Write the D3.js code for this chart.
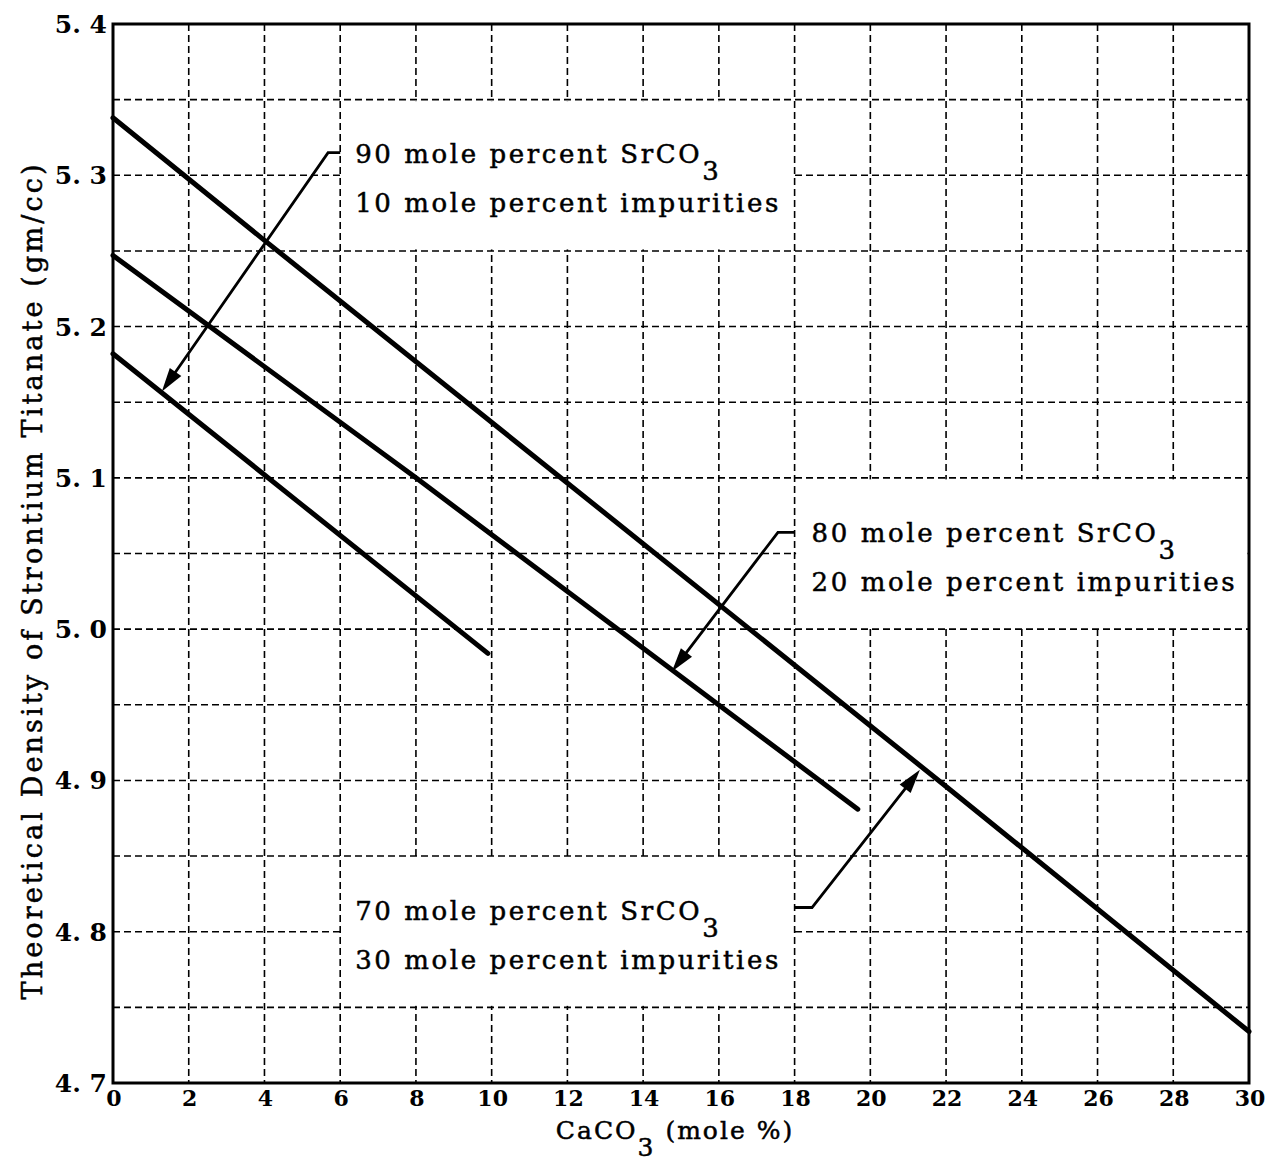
<!DOCTYPE html>
<html>
<head>
<meta charset="utf-8">
<script src="https://cdn.jsdelivr.net/npm/d3@7"></script>
<style>
  body { margin: 0; background: #fff; }
  text { fill: #000; }
</style>
</head>
<body>
<div id="chart"></div>
<script>
// tick values and labels
var xTicks = [0, 2, 4, 6, 8, 10, 12, 14, 16, 18, 20, 22, 24, 26, 28, 30];
var yTicks = [4.7, 4.8, 4.9, 5.0, 5.1, 5.2, 5.3, 5.4];
var yTickLabels = ["4. 7", "4. 8", "4. 9", "5. 0", "5. 1", "5. 2", "5. 3", "5. 4"];
var xGrid = [2, 4, 6, 8, 10, 12, 14, 16, 18, 20, 22, 24, 26, 28];
var yGrid = [4.75, 4.8, 4.85, 4.9, 4.95, 5.0, 5.05, 5.1, 5.15, 5.2, 5.25, 5.3, 5.35];

// CaCO3 (mole %) vs theoretical density (gm/cc)
var caco3_sr90 = [0, 5, 9.9];
var density_sr90 = [5.182, 5.082, 4.984];
var caco3_sr80 = [0, 8, 19.67];
var density_sr80 = [5.247, 5.100, 4.881];
var caco3_sr70 = [0, 4, 22, 30];
var density_sr70 = [5.338, 5.257, 4.896, 4.734];

var labels90 = ["90 mole percent SrCO", "10 mole percent impurities"];
var labels80 = ["80 mole percent SrCO", "20 mole percent impurities"];
var labels70 = ["70 mole percent SrCO", "30 mole percent impurities"];

var svgWidth = 1272;
var svgHeight = 1164;
var plot = { left: 113, right: 1249, top: 24, bottom: 1083 };

var svg = d3.select("#chart")
    .append("svg")
    .attr("width", svgWidth)
    .attr("height", svgHeight);

var x = d3.scaleLinear().domain([0, 30]).range([plot.left, plot.right]);
var y = d3.scaleLinear().domain([4.7, 5.4]).range([plot.bottom, plot.top]);

// dashed grid
var grid = svg.append("g")
    .attr("stroke", "#000")
    .attr("stroke-width", 1.6)
    .attr("stroke-dasharray", "7,4");
grid.selectAll("line.v")
    .data(xGrid)
    .enter()
    .append("line")
    .attr("x1", d => x(d)).attr("x2", d => x(d))
    .attr("y1", plot.top).attr("y2", plot.bottom);
grid.selectAll("line.h")
    .data(yGrid)
    .enter()
    .append("line")
    .attr("x1", plot.left).attr("x2", plot.right)
    .attr("y1", d => y(d)).attr("y2", d => y(d));

// label boxes blank out the grid inside them (data units)
var boxes = [
    { x0: 6, x1: 18, y0: 5.25, y1: 5.35, lines: labels90 },
    { x0: 18, x1: 30, y0: 5.0, y1: 5.1, lines: labels80 },
    { x0: 6, x1: 18, y0: 4.75, y1: 4.85, lines: labels70 }
];
svg.append("g")
    .selectAll("rect")
    .data(boxes)
    .enter()
    .append("rect")
    .attr("x", d => x(d.x0) + 1.5)
    .attr("y", d => y(d.y1) + 1.5)
    .attr("width", d => x(d.x1) - x(d.x0) - 3)
    .attr("height", d => y(d.y0) - y(d.y1) - 3)
    .attr("fill", "#fff");

// frame
svg.append("rect")
    .attr("x", plot.left)
    .attr("y", plot.top)
    .attr("width", plot.right - plot.left)
    .attr("height", plot.bottom - plot.top)
    .attr("fill", "none")
    .attr("stroke", "#000")
    .attr("stroke-width", 3);

// the three lines
var series = [
    { xs: caco3_sr90, ys: density_sr90 },
    { xs: caco3_sr80, ys: density_sr80 },
    { xs: caco3_sr70, ys: density_sr70 }
];
var lineGen = d3.line().x(d => x(d[0])).y(d => y(d[1]));
svg.append("g")
    .selectAll("path")
    .data(series)
    .enter()
    .append("path")
    .attr("d", s => lineGen(s.xs.map((v, i) => [v, s.ys[i]])))
    .attr("fill", "none")
    .attr("stroke", "#000")
    .attr("stroke-width", 5)
    .attr("stroke-linecap", "round");

// leader arrows (data units)
var arrows = [
    [[6, 5.315], [5.68, 5.315], [1.29, 5.157]],
    [[18, 5.064], [17.56, 5.064], [14.76, 4.972]],
    [[18, 4.816], [18.46, 4.816], [21.31, 4.907]]
];
var arrowG = svg.append("g");
arrows.forEach(function(a) {
    var pts = a.map(p => [x(p[0]), y(p[1])]);
    var tip = pts[pts.length - 1];
    var prev = pts[pts.length - 2];
    var dx = tip[0] - prev[0], dy = tip[1] - prev[1];
    var len = Math.sqrt(dx * dx + dy * dy);
    var ux = dx / len, uy = dy / len;
    var hl = 24, hw = 7;
    var bx = tip[0] - ux * hl, by = tip[1] - uy * hl;
    var shaft = pts.slice(0, -1).concat([[bx + ux * 4, by + uy * 4]]);
    arrowG.append("path")
        .attr("d", d3.line()(shaft))
        .attr("fill", "none")
        .attr("stroke", "#000")
        .attr("stroke-width", 2.8);
    arrowG.append("path")
        .attr("d", d3.line()([tip, [bx - uy * hw, by + ux * hw], [bx + uy * hw, by - ux * hw]]) + "Z")
        .attr("fill", "#000");
});

// label text
var textG = svg.append("g")
    .style("font-family", "'DejaVu Serif', serif")
    .style("font-size", "26px")
    .style("letter-spacing", "2.6px")
    .attr("stroke", "#000")
    .attr("stroke-width", 0.5);
boxes.forEach(function(b, i) {
    var tx = x(b.x0) + (i === 1 ? 17 : 15);
    var ymid = y((b.y0 + b.y1) / 2);
    var t1 = textG.append("text")
        .attr("x", tx)
        .attr("y", ymid - 12);
    t1.append("tspan").text(b.lines[0]);
    t1.append("tspan").attr("dy", 17).text("3");
    textG.append("text")
        .attr("x", tx)
        .attr("y", ymid + 37)
        .text(b.lines[1]);
});

// tick labels
var tickG = svg.append("g")
    .style("font-family", "'DejaVu Serif', serif")
    .style("font-weight", "bold");
tickG.selectAll("text.y")
    .data(yTicks)
    .enter()
    .append("text")
    .attr("x", plot.left - 6)
    .attr("y", d => y(d) + 9)
    .attr("text-anchor", "end")
    .style("font-size", "25px")
    .text((d, i) => yTickLabels[i]);
tickG.selectAll("text.x")
    .data(xTicks)
    .enter()
    .append("text")
    .attr("x", d => x(d) + 1)
    .attr("y", plot.bottom + 23)
    .attr("text-anchor", "middle")
    .style("font-size", "22px")
    .text(d => d);

// axis titles
var xTitle = svg.append("text")
    .attr("x", 675)
    .attr("y", 1139)
    .attr("text-anchor", "middle")
    .attr("stroke", "#000")
    .attr("stroke-width", 0.5)
    .style("font-family", "'DejaVu Serif', serif")
    .style("font-size", "25px")
    .style("letter-spacing", "2px");
xTitle.append("tspan").text("CaCO");
xTitle.append("tspan").attr("dy", 17).text("3");
xTitle.append("tspan").attr("dy", -17).text(" (mole %)");

svg.append("text")
    .attr("transform", "translate(42, 582) rotate(-90)")
    .attr("text-anchor", "middle")
    .attr("textLength", 835)
    .attr("lengthAdjust", "spacing")
    .attr("stroke", "#000")
    .attr("stroke-width", 0.5)
    .style("font-family", "'DejaVu Serif', serif")
    .style("font-size", "27px")
    .text("Theoretical Density of Strontium Titanate (gm/cc)");
</script>
</body>
</html>
